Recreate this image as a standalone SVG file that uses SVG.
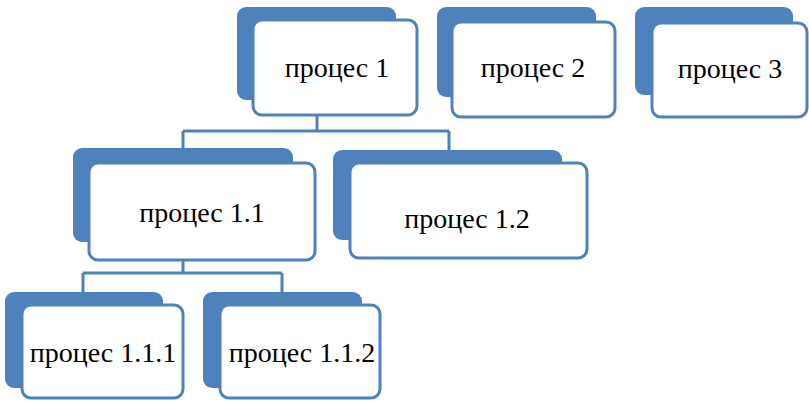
<svg xmlns="http://www.w3.org/2000/svg" width="809" height="402" viewBox="0 0 809 402">
  <style>
    .back { fill: #4f81bd; }
    .front { fill: #ffffff; stroke: #4f81bd; stroke-width: 3; }
    .label { font-family: "Liberation Serif", "Times New Roman", serif; font-size: 28px; fill: #000000; text-anchor: middle; }
    .wire { fill: none; stroke: #4f81bd; stroke-width: 3; }
  </style>
  <rect width="809" height="402" fill="#ffffff"/>

  <!-- tree connectors -->
  <g id="connectors">
    <path class="wire" d="M317 116 V131 M183 131 H449 M183 131 V148 M449 131 V150"/>
    <path class="wire" d="M183 260 V273 M83 273 H282 M83 273 V292 M282 273 V292"/>
  </g>

  <g id="p1">
    <rect class="back" x="237" y="7" width="159" height="93" rx="9"/>
    <rect class="front" x="253" y="20" width="164" height="95" rx="9"/>
    <text class="label" x="337" y="77">процес 1</text>
  </g>

  <g id="p2">
    <rect class="back" x="437" y="7" width="159" height="90" rx="9"/>
    <rect class="front" x="452" y="22" width="163" height="95" rx="9"/>
    <text class="label" x="533" y="77">процес 2</text>
  </g>

  <g id="p3">
    <rect class="back" x="635" y="7" width="158" height="88" rx="9"/>
    <rect class="front" x="652" y="23" width="155" height="94" rx="9"/>
    <text class="label" x="730" y="78">процес 3</text>
  </g>

  <g id="p1_1">
    <rect class="back" x="73" y="148" width="220" height="94" rx="9"/>
    <rect class="front" x="89" y="163" width="226" height="97" rx="9"/>
    <text class="label" x="202" y="222">процес 1.1</text>
  </g>

  <g id="p1_2">
    <rect class="back" x="333" y="150" width="229" height="90" rx="9"/>
    <rect class="front" x="350" y="163" width="237" height="95" rx="9"/>
    <text class="label" x="467" y="228">процес 1.2</text>
  </g>

  <g id="p1_1_1">
    <rect class="back" x="5" y="292" width="158" height="96" rx="9"/>
    <rect class="front" x="22" y="305" width="161" height="93" rx="9"/>
    <text class="label" x="103" y="362">процес 1.1.1</text>
  </g>

  <g id="p1_1_2">
    <rect class="back" x="203" y="292" width="159" height="96" rx="9"/>
    <rect class="front" x="220" y="305" width="160" height="93" rx="9"/>
    <text class="label" x="302" y="362">процес 1.1.2</text>
  </g>
</svg>
